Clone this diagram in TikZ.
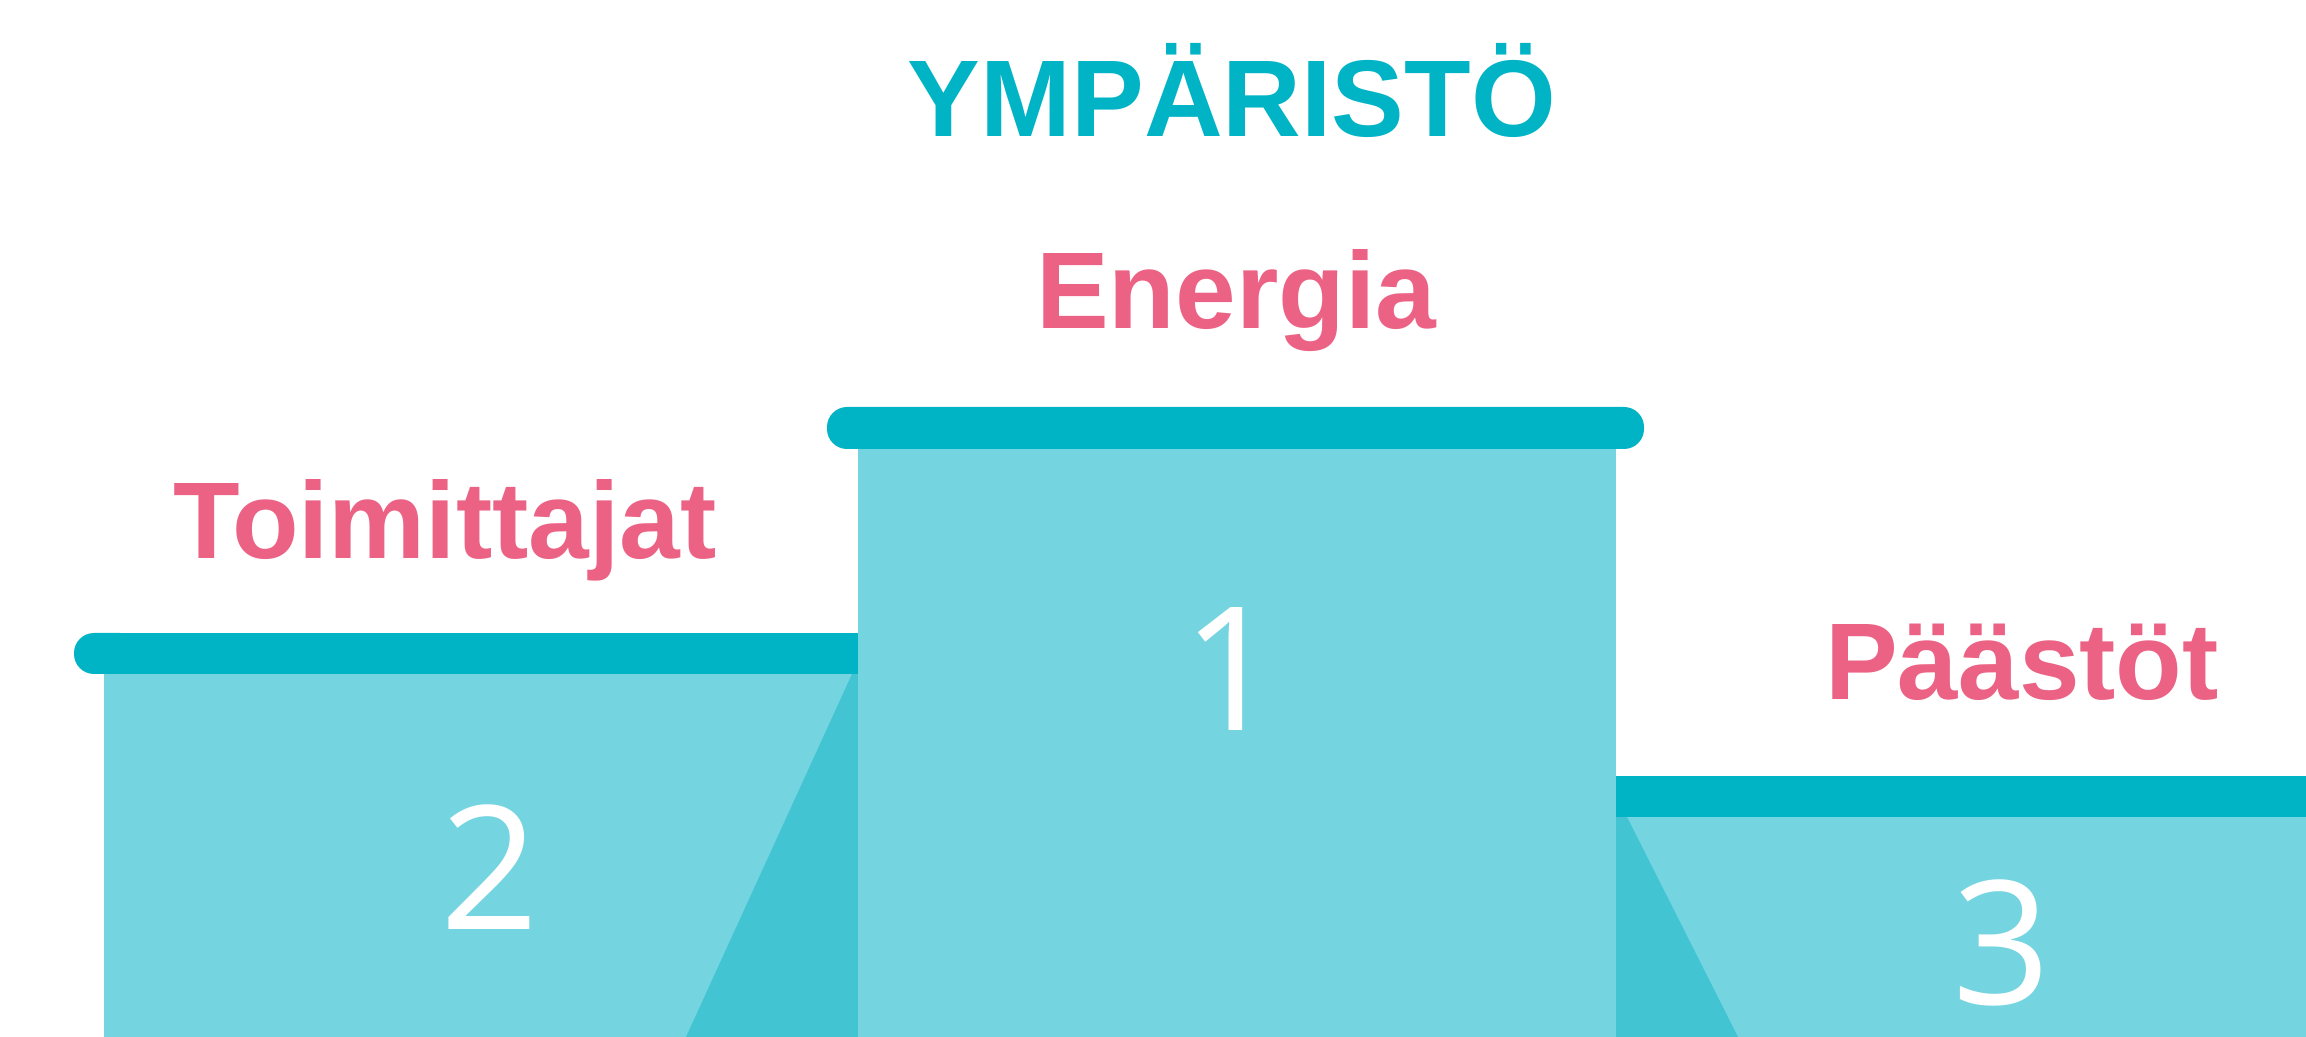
\documentclass[tikz,border=0pt]{standalone}
\usepackage{fontspec}
\setmainfont{Liberation Sans}
\newfontfamily\digitfont{Open Sans}
\usetikzlibrary{positioning}

\definecolor{barteal}{RGB}{0,180,198}
\definecolor{bodycyan}{RGB}{116,212,224}
\definecolor{shadecyan}{RGB}{66,196,210}
\definecolor{labelpink}{RGB}{236,98,132}

\begin{document}
\begin{tikzpicture}[
        x=0.01cm, y=-0.01cm,
        podiumlabel/.style={inner sep=0pt, anchor=base, text=labelpink, font=\fontsize{31}{31}\selectfont\bfseries},
        titletext/.style={podiumlabel, text=barteal},
        placenum/.style={inner sep=0pt, anchor=base, text=white, font=\digitfont\fontsize{49}{49}\selectfont},
        bodyfill/.style={fill=bodycyan},
        shadefill/.style={fill=shadecyan},
        barfill/.style={fill=barteal}
    ]
    \useasboundingbox[fill=white] (0,0) rectangle (2306,1037);

    % second place (left)
    \fill[bodyfill] (104,674) rectangle (858,1037);
    \fill[shadefill] (852,674) -- (858,674) -- (858,1037) -- (686,1037) -- cycle;
    \fill[barfill, rounded corners=0.2cm] (74,633) rectangle (140,674);
    \fill[barfill] (120,633) rectangle (858,674);

    % first place (middle)
    \fill[bodyfill] (858,449) rectangle (1616,1037);
    \fill[barfill, rounded corners=0.2cm] (827,407) rectangle (1644,449);

    % third place (right)
    \fill[bodyfill] (1616,817) rectangle (2306,1037);
    \fill[shadefill] (1616,817) -- (1627,817) -- (1738,1037) -- (1616,1037) -- cycle;
    \fill[barfill] (1616,776) rectangle (2306,817);

    % texts
    \node[titletext] (title) at (1232,137) {YMPÄRISTÖ};
    \node[podiumlabel] (energia) at (1236,329) {Energia};
    \node[podiumlabel] (toimittajat) at (445,559) {Toimittajat};
    \node[podiumlabel] (paastot) at (2022,699) {Päästöt};

    \node[placenum] (first) at (1232,731) {1};
    \node[placenum] (second) at (490,929) {2};
    \node[placenum] (third) at (2002,1004) {3};
\end{tikzpicture}
\end{document}
